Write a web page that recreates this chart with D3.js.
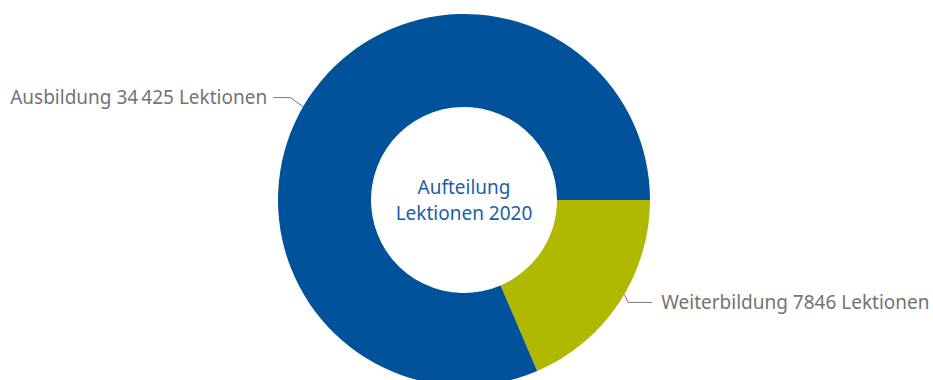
<!DOCTYPE html>
<html>
<head>
<meta charset="utf-8">
<script src="https://cdn.jsdelivr.net/npm/d3@7"></script>
<style>
  html, body { margin: 0; padding: 0; background: #ffffff; }
  svg { display: block; }
  text { font-family: "Source Sans Pro", "Noto Sans", sans-serif; }
</style>
</head>
<body>
<svg id="chart" width="933" height="380"></svg>
<script>
// Lesson split for 2020
const categories = ["Weiterbildung", "Ausbildung"];
const values = [7846, 34425];
const colors = ["#b1b800", "#00529b"];
const unit = "Lektionen";
const centerTitle = ["Aufteilung", "Lektionen 2020"];

const width = 933, height = 380;
const cx = 464, cy = 200;
const outerR = 186, innerR = 93;

const svg = d3.select("#chart");
const g = svg.append("g").attr("transform", `translate(${cx},${cy})`);

// Groups of thousands separated by a narrow space
const fmt = d3.formatLocale({ decimal: ",", thousands: "\u2009", grouping: [3], currency: ["", ""] }).format(",d");
const labelText = (i) => {
  const v = values[i];
  return `${categories[i]} ${v >= 10000 ? fmt(v) : String(v)} ${unit}`;
};

const pie = d3.pie().sort(null).value(d => d)
  .startAngle(Math.PI / 2).endAngle(Math.PI / 2 + 2 * Math.PI);
const arcs = pie(values);
const arc = d3.arc().innerRadius(innerR).outerRadius(outerR);

g.selectAll("path.slice")
  .data(arcs)
  .join("path")
  .attr("class", "slice")
  .attr("d", arc)
  .attr("fill", (d, i) => colors[i]);

// Leader lines and labels
arcs.forEach((d, i) => {
  const mid = (d.startAngle + d.endAngle) / 2;
  const right = Math.sin(mid) > 0;
  const ly = -outerR * Math.cos(mid);           // label height follows slice middle
  const ay = ly + (ly < 0 ? 9 : -8);            // connector meets rim nearer the middle
  const ax = (right ? 1 : -1) * Math.sqrt(outerR * outerR - ay * ay);
  const ex = right ? ax + 4 : ax - 13;          // elbow
  const tx = right ? ex + 24 : ex - 17;         // horizontal end
  g.append("path")
    .attr("d", `M${ax},${ay}L${ex},${ly}L${tx},${ly}`)
    .attr("fill", "none")
    .attr("stroke", "#7a7a7a")
    .attr("stroke-width", 1);
  g.append("text")
    .attr("x", right ? tx + 9 : tx - 6)
    .attr("y", ly)
    .attr("dy", "0.35em")
    .attr("text-anchor", right ? "start" : "end")
    .attr("fill", "#737373")
    .attr("font-size", 19)
    .text(labelText(i));
});

// Title in the hole
g.append("text")
  .attr("text-anchor", "middle")
  .attr("fill", "#1c5ea6")
  .attr("font-size", 19)
  .selectAll("tspan")
  .data(centerTitle)
  .join("tspan")
  .attr("x", 0)
  .attr("y", (d, i) => -6 + i * 26)
  .text(d => d);
</script>
</body>
</html>
